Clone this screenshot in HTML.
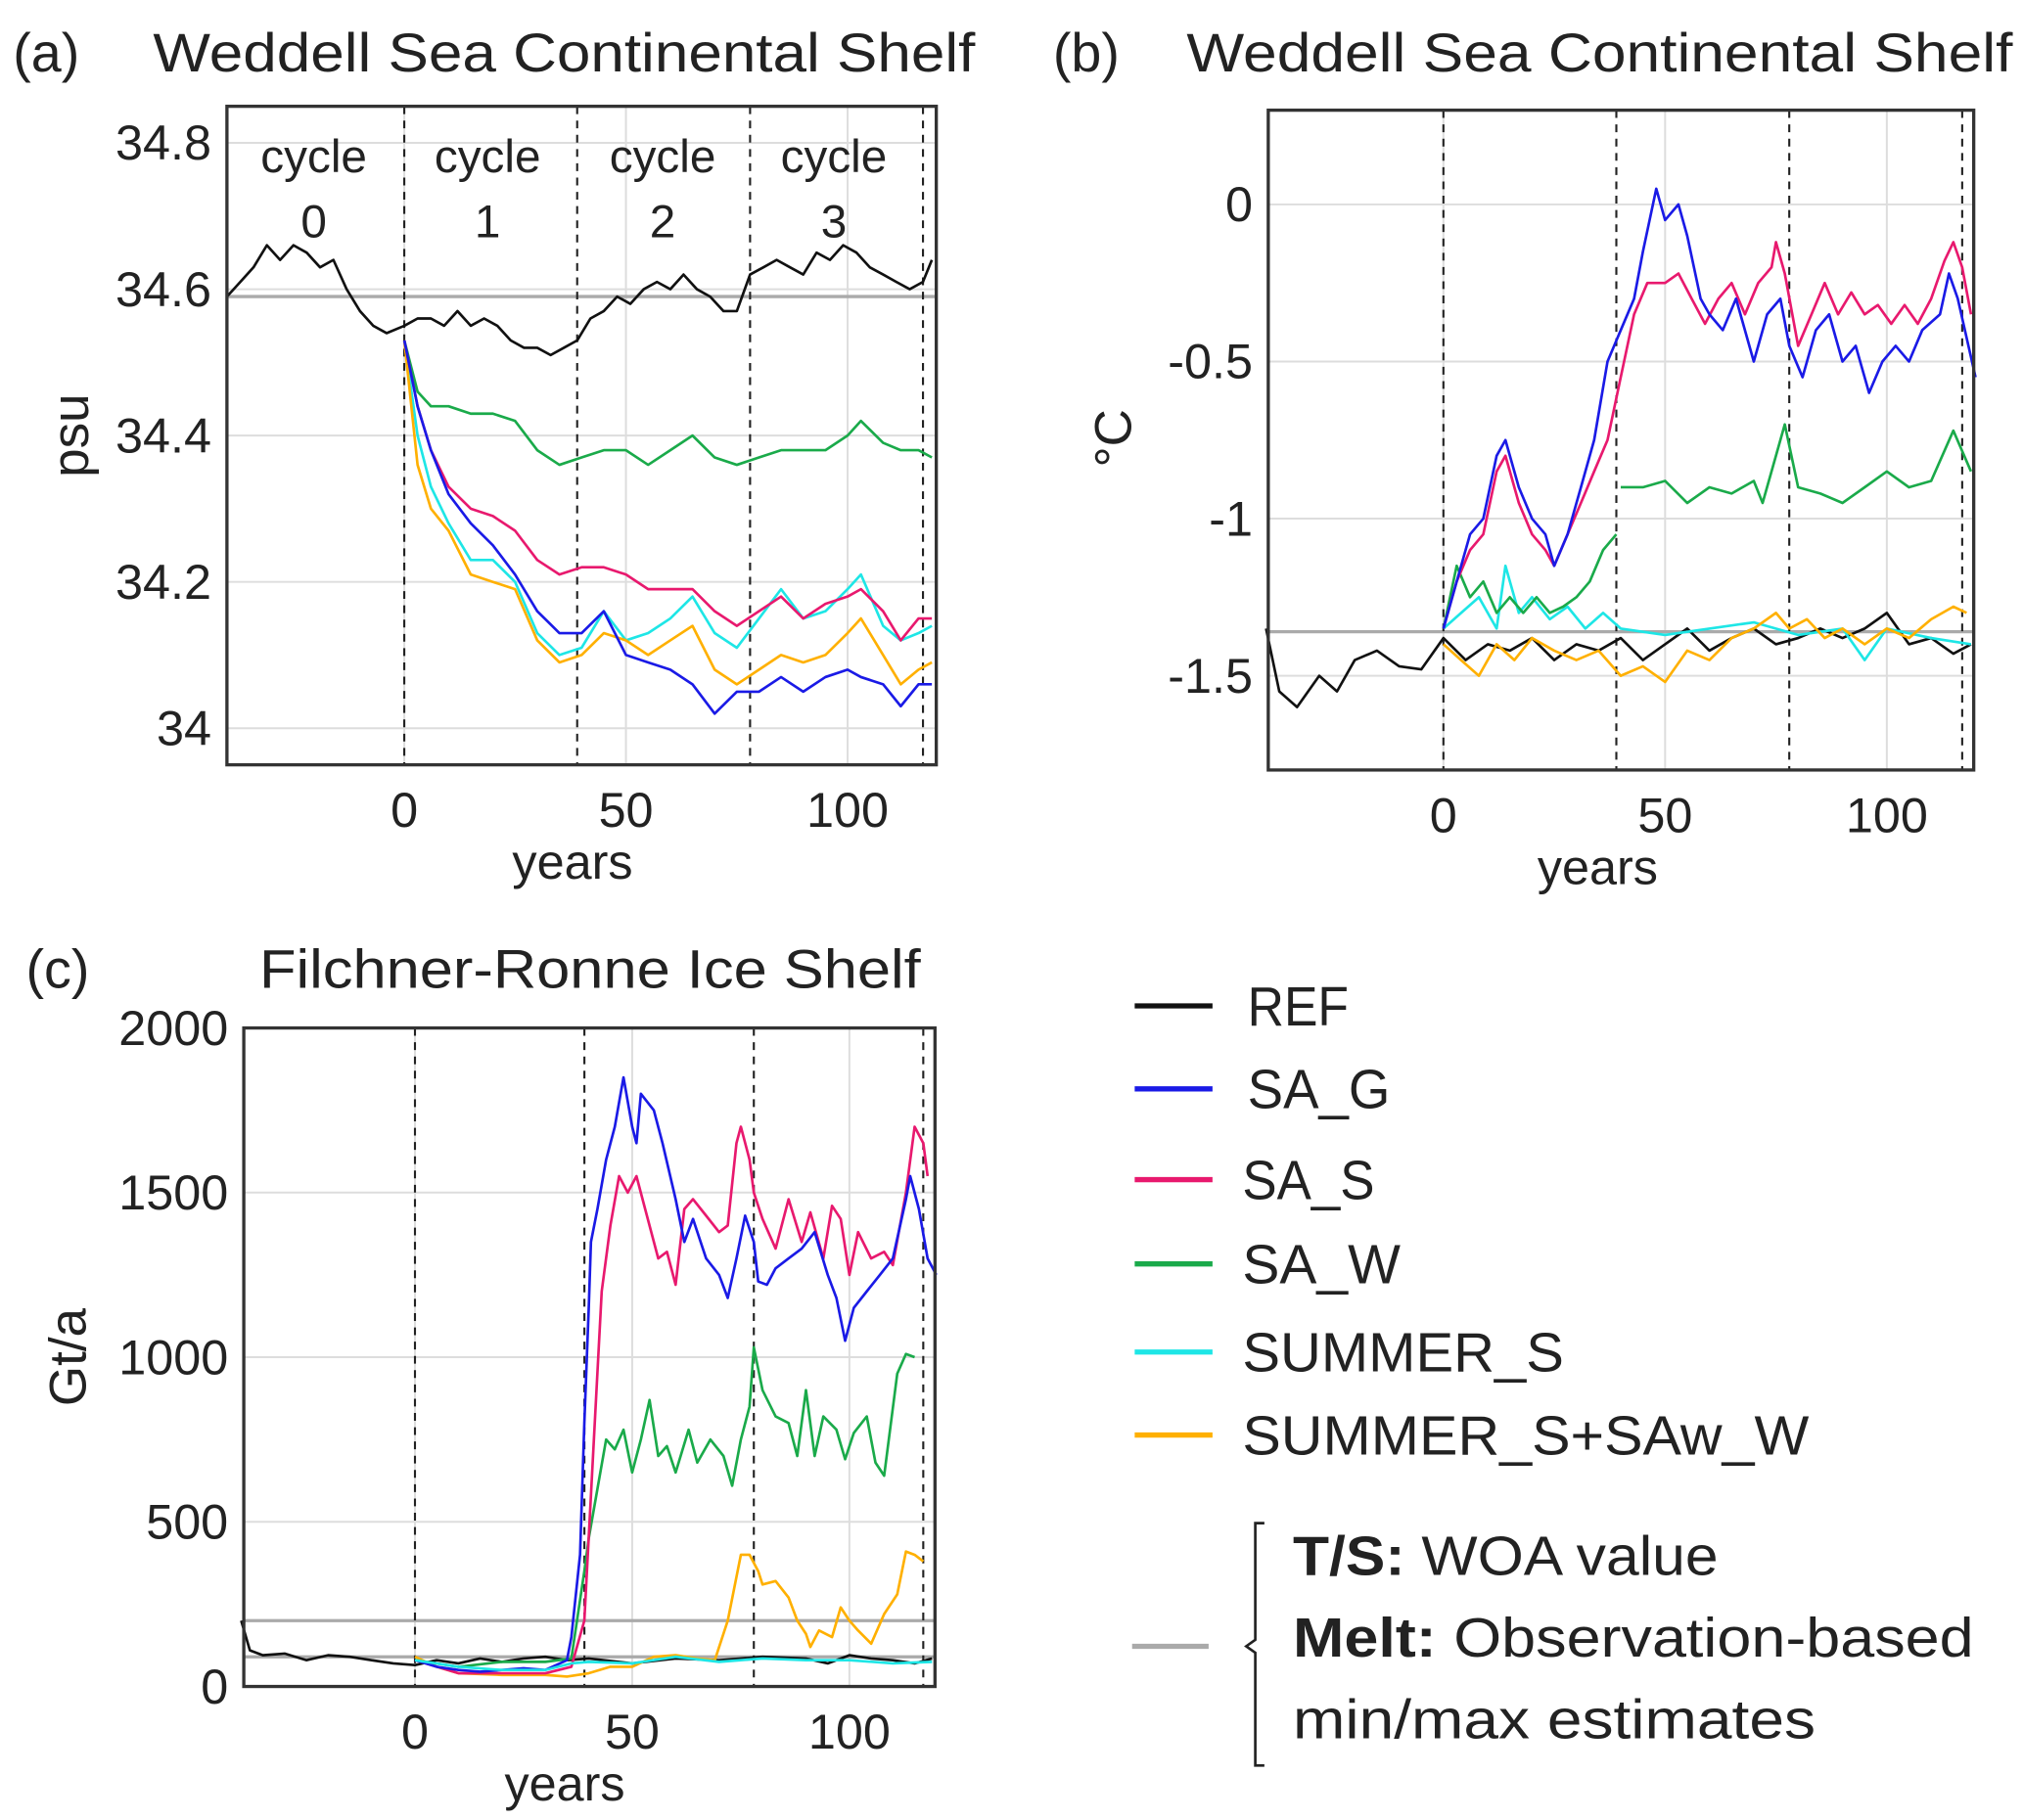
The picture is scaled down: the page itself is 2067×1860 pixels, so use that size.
<!DOCTYPE html>
<html><head><meta charset="utf-8"><style>
html,body{margin:0;padding:0;background:#fff}
svg{display:block}
text{font-family:"Liberation Sans",sans-serif;fill:#222}
</style></head><body>
<svg id="fig" width="2067" height="1860" viewBox="0 0 1560 1404" preserveAspectRatio="none" xmlns="http://www.w3.org/2000/svg"></svg>
<script>
// ---------- DATA ----------
const aRefYears=[-40,-37,-34,-31,-28,-25,-22,-19,-16,-13,-10,-7,-4,0,3,6,9,12,15,18,21,24,27,30,33,36,39,42,45,48,51,54,57,60,63,66,69,72,75,78,81,84,87,90,93,96,99,102,105,108,111,114,117,119];
const aRefVals=[34.59,34.61,34.63,34.66,34.64,34.66,34.65,34.63,34.64,34.60,34.57,34.55,34.54,34.55,34.56,34.56,34.55,34.57,34.55,34.56,34.55,34.53,34.52,34.52,34.51,34.52,34.53,34.56,34.57,34.59,34.58,34.60,34.61,34.60,34.62,34.60,34.59,34.57,34.57,34.62,34.63,34.64,34.63,34.62,34.65,34.64,34.66,34.65,34.63,34.62,34.61,34.60,34.61,34.64];
const aYears=[0,3,6,10,15,20,25,30,35,40,45,50,55,60,65,70,75,80,85,90,95,100,103,108,112,116,119];
const aSAW=[34.53,34.46,34.44,34.44,34.43,34.43,34.42,34.38,34.36,34.37,34.38,34.38,34.36,34.38,34.40,34.37,34.36,34.37,34.38,34.38,34.38,34.40,34.42,34.39,34.38,34.38,34.37];
const aSAS=[34.53,34.44,34.38,34.33,34.30,34.29,34.27,34.23,34.21,34.22,34.22,34.21,34.19,34.19,34.19,34.16,34.14,34.16,34.18,34.15,34.17,34.18,34.19,34.16,34.12,34.15,34.15];
const aSAG=[34.53,34.44,34.38,34.32,34.28,34.25,34.21,34.16,34.13,34.13,34.16,34.10,34.09,34.08,34.06,34.02,34.05,34.05,34.07,34.05,34.07,34.08,34.07,34.06,34.03,34.06,34.06];
const aSUM=[34.53,34.40,34.33,34.28,34.23,34.23,34.20,34.13,34.10,34.11,34.16,34.12,34.13,34.15,34.18,34.13,34.11,34.15,34.19,34.15,34.16,34.19,34.21,34.14,34.12,34.13,34.14];
const aSUMW=[34.53,34.36,34.30,34.27,34.21,34.20,34.19,34.12,34.09,34.10,34.13,34.12,34.10,34.12,34.14,34.08,34.06,34.08,34.10,34.09,34.10,34.13,34.15,34.10,34.06,34.08,34.09];

const bRefYears=[-40,-37,-33,-28,-24,-20,-15,-10,-5,0,5,10,15,20,25,30,35,40,45,50,55,60,65,70,75,80,85,90,95,100,105,110,115,119];
const bRefVals=[-1.35,-1.55,-1.60,-1.50,-1.55,-1.45,-1.42,-1.47,-1.48,-1.38,-1.45,-1.40,-1.42,-1.38,-1.45,-1.40,-1.42,-1.38,-1.45,-1.40,-1.35,-1.42,-1.38,-1.35,-1.40,-1.38,-1.35,-1.38,-1.35,-1.30,-1.40,-1.38,-1.43,-1.40];
const bGYears=[0,3,6,9,12,14,17,20,23,25,28,31,34,37,40,43,45,48,50,53,55,58,60,63,66,70,73,76,78,81,84,87,90,93,96,99,102,105,108,112,114,116,120];
const bSAG=[-1.35,-1.20,-1.05,-1.00,-0.80,-0.75,-0.90,-1.00,-1.05,-1.15,-1.05,-0.90,-0.75,-0.50,-0.40,-0.30,-0.15,0.05,-0.05,0.00,-0.10,-0.30,-0.35,-0.40,-0.30,-0.50,-0.35,-0.30,-0.45,-0.55,-0.40,-0.35,-0.50,-0.45,-0.60,-0.50,-0.45,-0.50,-0.40,-0.35,-0.22,-0.30,-0.55];
const bSYears=[0,3,6,9,12,14,17,20,23,25,28,31,34,37,40,43,46,50,53,56,59,62,65,68,71,74,75,77,80,83,86,89,92,95,98,101,104,107,110,113,115,117,119];
const bSAS=[-1.35,-1.20,-1.10,-1.05,-0.85,-0.80,-0.95,-1.05,-1.10,-1.15,-1.05,-0.95,-0.85,-0.75,-0.55,-0.35,-0.25,-0.25,-0.22,-0.30,-0.38,-0.30,-0.25,-0.35,-0.25,-0.20,-0.12,-0.22,-0.45,-0.35,-0.25,-0.35,-0.28,-0.35,-0.32,-0.38,-0.32,-0.38,-0.30,-0.18,-0.12,-0.20,-0.35];
const bW1Years=[0,3,6,9,12,15,18,21,24,27,30,33,36,39];
const bSAW1=[-1.35,-1.15,-1.25,-1.20,-1.30,-1.25,-1.30,-1.25,-1.30,-1.28,-1.25,-1.20,-1.10,-1.05];
const bW2Years=[40,45,50,55,60,65,70,72,75,77,80,85,90,95,100,105,110,115,119];
const bSAW2=[-0.90,-0.90,-0.88,-0.95,-0.90,-0.92,-0.88,-0.95,-0.80,-0.70,-0.90,-0.92,-0.95,-0.90,-0.85,-0.90,-0.88,-0.72,-0.85];
const bCYears=[0,4,8,12,14,17,20,24,28,32,36,40,50,60,70,80,90,95,100,110,119];
const bSUM=[-1.35,-1.30,-1.25,-1.35,-1.15,-1.30,-1.25,-1.32,-1.28,-1.35,-1.30,-1.35,-1.37,-1.35,-1.33,-1.37,-1.35,-1.45,-1.35,-1.38,-1.40];
const bYYears=[0,4,8,12,16,20,25,30,35,40,45,50,55,60,65,70,75,78,82,86,90,95,100,105,110,115,118];
const bSUMW=[-1.40,-1.45,-1.50,-1.40,-1.45,-1.38,-1.42,-1.45,-1.42,-1.50,-1.47,-1.52,-1.42,-1.45,-1.38,-1.35,-1.30,-1.35,-1.32,-1.38,-1.35,-1.40,-1.35,-1.38,-1.32,-1.28,-1.30];

const cRefYears=[-40,-38,-35,-30,-25,-20,-15,-10,-5,0,5,10,15,20,25,30,35,40,50,60,70,80,90,95,100,105,110,115,119];
const cRefVals=[200,110,95,100,80,95,90,80,70,65,80,70,85,75,85,90,80,85,70,85,80,90,85,70,95,85,80,70,85];
const cGYears=[0,5,10,15,20,25,30,35,36,38,39,40,40.5,42,44,46,48,50,51,52,55,57,60,62,64,67,70,72,74,76,78,79,81,83,86,89,92,95,97,99,101,104,107,110,113,114,116,118,120];
const cSAG=[80,60,50,45,50,55,50,80,150,400,800,1150,1350,1450,1600,1700,1850,1700,1650,1800,1750,1650,1480,1350,1420,1300,1250,1180,1300,1430,1350,1230,1220,1270,1300,1330,1380,1250,1180,1050,1150,1200,1250,1300,1480,1550,1450,1300,1250];
const cSYears=[0,10,20,30,36,39,41,43,45,47,49,51,53,56,58,60,62,64,67,70,72,74,75,77,78,80,83,86,89,91,94,96,98,100,102,105,108,110,113,115,117,118];
const cSAS=[80,40,40,40,60,200,700,1200,1400,1550,1500,1550,1450,1300,1320,1220,1450,1480,1430,1380,1400,1650,1700,1600,1500,1420,1330,1480,1350,1440,1300,1460,1420,1250,1380,1300,1320,1280,1500,1700,1650,1550];
const cWYears=[0,10,20,30,36,39,40,42,44,46,48,50,52,54,56,58,60,63,65,68,71,73,75,77,78,80,83,86,88,90,92,94,97,99,101,104,106,108,111,113,115];
const cSAW=[80,60,75,75,85,350,450,600,750,720,780,650,750,870,700,730,650,780,680,750,700,610,750,850,1030,900,820,800,700,900,700,820,780,690,770,820,680,640,950,1010,1000];
const cCYears=[0,10,20,30,36,40,50,60,70,80,90,100,110,119];
const cSUM=[80,60,50,50,70,75,70,90,75,85,80,80,70,75];
const cYYears=[0,5,10,20,30,35,40,45,50,55,60,65,69,72,75,77,79,80,83,86,88,90,91,93,96,98,100,102,105,108,111,113,115,117];
const cSUMW=[90,60,40,35,35,30,40,60,60,90,95,85,80,200,400,400,350,310,320,270,200,160,120,170,150,240,200,170,130,220,280,410,400,380];

const legendLabels=["REF","SA_G","SA_S","SA_W","SUMMER_S","SUMMER_S+SAw_W"];
const colors={ref:"#111",g:"#1a1ae6",s:"#e8196e",w:"#1aaa4a",c:"#1ee6e6",y:"#ffb000"};

// ---------- DRAW ----------
const NS="http://www.w3.org/2000/svg";
const svg=document.getElementById('fig');
function mk(tag,attrs,parent,text){const e=document.createElementNS(NS,tag);for(const k in attrs)e.setAttribute(k,attrs[k]);if(text!==undefined)e.textContent=text;(parent||svg).appendChild(e);return e;}

function panel(cfg){
  const g=mk('g',{});
  
  
  const sx=v=>cfg.x0+(v-cfg.xmin)/(cfg.xmax-cfg.xmin)*(cfg.x1-cfg.x0);
  const sy=v=>cfg.y1-(v-cfg.ymin)/(cfg.ymax-cfg.ymin)*(cfg.y1-cfg.y0);
  [0,50,100].forEach(t=>{const l=mk('line',{x1:sx(t),x2:sx(t),y1:cfg.y0,y2:cfg.y1,stroke:'#ddd','stroke-width':1.5},g);});
  cfg.yticks.forEach((t,i)=>{const l=mk('line',{x1:cfg.x0,x2:cfg.x1,y1:sy(t),y2:sy(t),stroke:'#ddd','stroke-width':1.5},g);
    const tx=mk('text',{x:cfg.x0-12,y:sy(t)+13,'text-anchor':'end','font-size':38},g,cfg.ylabels[i]);});
  [0,50,100].forEach(t=>{const tx=mk('text',{x:sx(t),y:cfg.y1+48,'text-anchor':'middle','font-size':38},g,String(t));});
  cfg.refLines.forEach(v=>{const l=mk('line',{x1:cfg.x0,x2:cfg.x1,y1:sy(v),y2:sy(v),stroke:'#aaa','stroke-width':2.5},g);});
  [0,39,78,117].forEach(t=>{const l=mk('line',{x1:sx(t),x2:sx(t),y1:cfg.y0,y2:cfg.y1,stroke:'#222','stroke-width':1.6,'stroke-dasharray':'6,5'},g);});
  cfg.series.forEach(s=>{
    const d=s.x.map((v,i)=>(i?'L':'M')+sx(v).toFixed(1)+','+sy(s.y[i]).toFixed(1)).join('');
    const p=mk('path',{d:d,fill:'none',stroke:s.c,'stroke-width':2,'stroke-linejoin':'round'},g);
    
    
  });
  const box=mk('rect',{x:cfg.x0,y:cfg.y0,width:cfg.x1-cfg.x0,height:cfg.y1-cfg.y0,fill:'none',stroke:'#333','stroke-width':2.5},g);
  
  const xl=mk('text',{x:(cfg.x0+cfg.x1)/2+cfg.xlOff,y:cfg.y1+88,'text-anchor':'middle','font-size':38},g,'years');
  
  const yl=mk('text',{x:cfg.ylx,y:cfg.yly,'text-anchor':'middle','font-size':40,transform:`rotate(-90 ${cfg.ylx} ${cfg.yly})`},g,cfg.ylab);
  
  const pl=mk('text',{x:cfg.plx,y:cfg.tly,'font-size':42},g,cfg.letter);
  
  const tt=mk('text',{x:cfg.tlx,y:cfg.tly,'font-size':42,textLength:cfg.tw,lengthAdjust:'spacingAndGlyphs'},g,cfg.title);
  
  return {g,sx,sy};
}

const pa=panel({name:'panel-a-salinity',x0:175,x1:722,y0:82,y1:590,xmin:-40,xmax:120,ymin:33.95,ymax:34.85,
  yticks:[34,34.2,34.4,34.6,34.8],ylabels:['34','34.2','34.4','34.6','34.8'],refLines:[34.59],
  series:[{n:'ref',x:aRefYears,y:aRefVals,c:colors.ref},{n:'sa-w',x:aYears,y:aSAW,c:colors.w},{n:'summer-s',x:aYears,y:aSUM,c:colors.c},{n:'summer-s-saw-w',x:aYears,y:aSUMW,c:colors.y},{n:'sa-s',x:aYears,y:aSAS,c:colors.s},{n:'sa-g',x:aYears,y:aSAG,c:colors.g}],
  xlOff:-7,ylab:'psu',ylx:68,yly:336,letter:'(a)',plx:10,tlx:118,tly:55,tw:634,title:'Weddell Sea Continental Shelf'});
[['0',242],['1',376],['2',511],['3',643]].forEach(([n,x])=>{
  const t1=mk('text',{x:x,y:133,'text-anchor':'middle','font-size':36},pa.g,'cycle');
  const t2=mk('text',{x:x,y:183,'text-anchor':'middle','font-size':36},pa.g,n);
});

panel({name:'panel-b-temperature',x0:978,x1:1522,y0:85,y1:594,xmin:-39.5,xmax:119.6,ymin:-1.8,ymax:0.3,
  yticks:[-1.5,-1,-0.5,0],ylabels:['-1.5','-1','-0.5','0'],refLines:[-1.36],
  series:[{n:'ref',x:bRefYears,y:bRefVals,c:colors.ref},{n:'summer-s',x:bCYears,y:bSUM,c:colors.c},{n:'summer-s-saw-w',x:bYYears,y:bSUMW,c:colors.y},{n:'sa-w-part1',x:bW1Years,y:bSAW1,c:colors.w},{n:'sa-w-part2',x:bW2Years,y:bSAW2,c:colors.w},{n:'sa-s',x:bSYears,y:bSAS,c:colors.s},{n:'sa-g',x:bGYears,y:bSAG,c:colors.g}],
  xlOff:-18,ylab:'°C',ylx:872,yly:338,letter:'(b)',plx:812,tlx:915,tly:55,tw:637,title:'Weddell Sea Continental Shelf'});

panel({name:'panel-c-melt',x0:188,x1:721,y0:793,y1:1301,xmin:-39.4,xmax:119.7,ymin:0,ymax:2000,
  yticks:[0,500,1000,1500,2000],ylabels:['0','500','1000','1500','2000'],refLines:[200,90],
  series:[{n:'ref',x:cRefYears,y:cRefVals,c:colors.ref},{n:'summer-s-saw-w',x:cYYears,y:cSUMW,c:colors.y},{n:'sa-w',x:cWYears,y:cSAW,c:colors.w},{n:'sa-s',x:cSYears,y:cSAS,c:colors.s},{n:'sa-g',x:cGYears,y:cSAG,c:colors.g},{n:'summer-s',x:cCYears,y:cSUM,c:colors.c}],
  xlOff:-19,ylab:'Gt/a',ylx:66,yly:1047,letter:'(c)',plx:20,tlx:200,tly:762,tw:510,title:'Filchner-Ronne Ice Shelf'});

// legend
const lg=mk('g',{});


const legCols=[colors.ref,colors.g,colors.s,colors.w,colors.c,colors.y];
const legY=[776,840,910,975,1043,1107];
const legW=[78,110,102,122,248,437];
legendLabels.forEach((lab,i)=>{
  const e=mk('g',{},lg);
  
  
  mk('line',{x1:875,x2:935,y1:legY[i],y2:legY[i],stroke:legCols[i],'stroke-width':4},e);
  mk('text',{x:i<2?962:958,y:legY[i]+15,'font-size':43,textLength:legW[i],lengthAdjust:'spacingAndGlyphs'},e,lab);
});
const gl=mk('line',{x1:873,x2:932,y1:1270,y2:1270,stroke:'#aaa','stroke-width':4},lg);


const br=mk('path',{d:'M975,1175 L968,1175 L968,1265 L961,1270 L968,1275 L968,1362 L975,1362',fill:'none',stroke:'#222','stroke-width':2},lg);


const t1=mk('text',{x:997,y:1215,'font-size':43,textLength:328,lengthAdjust:'spacingAndGlyphs'},lg);


mk('tspan',{'font-weight':'bold'},t1,'T/S:');mk('tspan',{},t1,' WOA value');
const t2=mk('text',{x:997,y:1278,'font-size':43,textLength:525,lengthAdjust:'spacingAndGlyphs'},lg);


mk('tspan',{'font-weight':'bold'},t2,'Melt:');mk('tspan',{},t2,' Observation-based');
const t3=mk('text',{x:997,y:1341,'font-size':43,textLength:403,lengthAdjust:'spacingAndGlyphs'},lg,'min/max estimates');


</script>
</body></html>
